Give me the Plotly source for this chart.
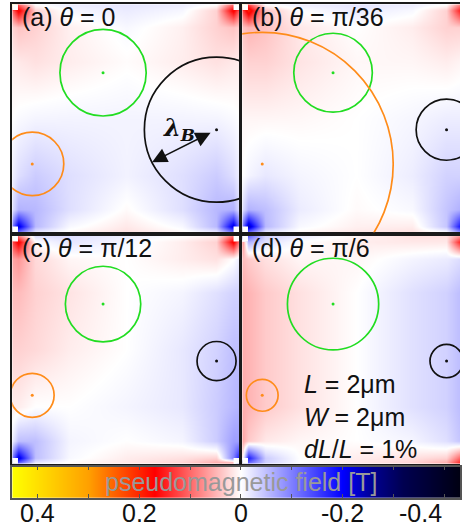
import math
import plotly.graph_objects as go

W, H = 462, 527

# ---------------- data ----------------
grid_pos = [0, 0.025, 0.1, 0.25, 0.5, 0.75, 0.9, 0.975, 1]  # sample positions (fraction of sample size)

# pseudomagnetic field [T]; rows = y from bottom to top, cols = x from left to right
field_a = [
    [-0.45, -0.10, -0.015, 0.005, 0.02, 0.005, -0.015, -0.10, -0.45],
    [-0.10, -0.22, -0.055, -0.005, 0.015, -0.005, -0.055, -0.22, -0.10],
    [-0.025, -0.06, -0.055, -0.025, 0.003, -0.025, -0.055, -0.06, -0.025],
    [-0.012, -0.025, -0.04, -0.025, -0.01, -0.025, -0.04, -0.025, -0.012],
    [0.00, -0.004, -0.008, -0.009, -0.009, -0.009, -0.008, -0.004, 0.00],
    [0.012, 0.015, 0.02, 0.012, 0.002, 0.012, 0.02, 0.015, 0.012],
    [0.03, 0.04, 0.03, 0.01, -0.005, 0.01, 0.03, 0.04, 0.03],
    [0.10, 0.18, 0.03, -0.006, -0.015, -0.006, 0.03, 0.18, 0.10],
    [0.45, 0.10, 0.00, -0.015, -0.02, -0.015, 0.00, 0.10, 0.45],
]
field_b = [
    [-0.45, -0.10, -0.015, 0.005, 0.015, 0.02, 0.00, -0.10, -0.45],
    [-0.10, -0.24, -0.055, -0.005, 0.01, 0.012, -0.045, -0.22, -0.10],
    [-0.025, -0.06, -0.05, -0.015, 0.003, -0.005, -0.045, -0.065, -0.035],
    [0.00, -0.008, -0.018, -0.008, 0.00, -0.014, -0.035, -0.035, -0.025],
    [0.006, 0.006, 0.006, 0.005, 0.00, -0.007, -0.014, -0.014, -0.014],
    [0.025, 0.03, 0.03, 0.018, 0.005, 0.006, 0.012, 0.006, 0.00],
    [0.04, 0.05, 0.04, 0.015, 0.00, 0.012, 0.03, 0.03, 0.015],
    [0.12, 0.20, 0.04, 0.00, -0.015, -0.005, 0.03, 0.18, 0.10],
    [0.45, 0.12, 0.00, -0.015, -0.02, -0.015, 0.00, 0.10, 0.45],
]
field_c = [
    [-0.45, -0.10, -0.01, 0.005, 0.015, 0.03, 0.06, 0.10, -0.35],
    [-0.10, -0.22, -0.05, -0.005, 0.012, 0.02, 0.03, -0.10, -0.18],
    [-0.015, -0.05, -0.05, -0.008, 0.00, -0.008, -0.04, -0.075, -0.075],
    [0.012, 0.012, 0.00, 0.00, -0.008, -0.018, -0.04, -0.055, -0.06],
    [0.03, 0.03, 0.025, 0.012, 0.00, -0.018, -0.035, -0.05, -0.05],
    [0.045, 0.045, 0.03, 0.018, 0.00, -0.008, -0.024, -0.035, -0.035],
    [0.06, 0.07, 0.025, 0.006, 0.00, 0.012, 0.02, 0.00, -0.015],
    [0.12, 0.18, 0.00, -0.02, -0.006, 0.012, 0.03, 0.18, 0.08],
    [0.45, 0.08, -0.025, -0.025, -0.012, 0.00, 0.012, 0.10, 0.45],
]
field_d = [
    [-0.45, -0.10, -0.035, 0.00, 0.015, 0.03, 0.06, 0.18, 0.45],
    [0.02, -0.18, -0.04, 0.00, 0.012, 0.02, 0.03, 0.12, 0.08],
    [0.06, 0.035, 0.015, 0.006, 0.00, -0.008, -0.025, -0.05, -0.06],
    [0.055, 0.05, 0.035, 0.02, 0.00, -0.024, -0.036, -0.055, -0.06],
    [0.055, 0.05, 0.035, 0.02, 0.00, -0.024, -0.036, -0.055, -0.06],
    [0.055, 0.05, 0.035, 0.02, 0.00, -0.024, -0.036, -0.055, -0.06],
    [0.045, 0.035, 0.02, 0.006, 0.006, -0.008, -0.015, -0.03, -0.035],
    [0.08, -0.06, -0.025, 0.00, 0.012, 0.015, 0.015, 0.18, 0.06],
    [-0.35, -0.12, -0.035, -0.015, 0.006, 0.02, 0.02, 0.08, 0.45],
]
fields = [field_a, field_b, field_c, field_d]

panel_labels = ["(a) <i>θ</i> = 0", "(b) <i>θ</i> = π/36",
                "(c) <i>θ</i> = π/12", "(d) <i>θ</i> = π/6"]

green_center = (0.40, 0.70)
orange_center = (0.088, 0.30)
black_center = (0.90, 0.45)
green_r = [0.190, 0.173, 0.166, 0.201]
orange_r = [0.139, 0.577, 0.0965, 0.070]
black_r = [0.318, 0.134, 0.086, 0.073]

lambda_arrow_angle = 206.6  # degrees, direction of the λ_B arrow in panel (a)
params_text = "<i>L</i> = 2μm<br><i>W</i> = 2μm<br><i>dL</i>/<i>L</i> = 1%"

field_min, field_max = -0.45, 0.45
cbar_ticks = [0.4, 0.3, 0.2, 0.1, 0, -0.1, -0.2, -0.3, -0.4]
cbar_label_vals = [0.4, 0.2, 0, -0.2, -0.4]
cbar_label_text = ["0.4", "0.2", "0", "-0.2", "-0.4"]
cbar_title = "pseudomagnetic field [T]"

# ---------------- style ----------------
def nz(v):
    return (v - field_min) / (field_max - field_min)

colorscale = [
    [nz(-0.45), "#000008"],
    [nz(-0.32), "#000050"],
    [nz(-0.26), "#000090"],
    [nz(-0.20), "#0000ff"],
    [nz(0.0), "#ffffff"],
    [nz(0.17), "#ff0000"],
    [nz(0.30), "#ffa000"],
    [nz(0.45), "#ffff00"],
]

FONT = "Liberation Sans, Arial, sans-serif"
PANEL = 228.0
col_x0 = [12.3, 243.3]
row_y0 = [4.3, 235.7]

fig = go.Figure()
layout = dict(width=W, height=H, margin=dict(l=0, r=0, t=0, b=0),
              paper_bgcolor="white", plot_bgcolor="white", showlegend=False,
              font=dict(family=FONT, color="#111111"))
shapes = []
annotations = []

pad_half = 0.012
corner_pts = [(0, 0), (0, 1), (1, 0), (1, 1)]

for i in range(4):
    r, c = divmod(i, 2)
    x0 = col_x0[c]
    y0 = row_y0[r]
    xd1 = min((x0 + PANEL) / W, 1.0)
    xr1 = (xd1 * W - x0) / PANEL
    xa = "x" if i == 0 else f"x{i+1}"
    ya = "y" if i == 0 else f"y{i+1}"
    xk = "xaxis" if i == 0 else f"xaxis{i+1}"
    yk = "yaxis" if i == 0 else f"yaxis{i+1}"
    full_right = xd1 < 1.0
    layout[xk] = dict(domain=[x0 / W, xd1], range=[0, xr1], anchor=ya,
                      showgrid=False, zeroline=False, showticklabels=False, ticks="",
                      showline=True, mirror=True, linecolor="#1a1a1a", linewidth=1.5)
    layout[yk] = dict(domain=[1 - (y0 + PANEL) / H, 1 - y0 / H], range=[0, 1], anchor=xa,
                      showgrid=False, zeroline=False, showticklabels=False, ticks="",
                      showline=True, mirror=full_right, linecolor="#1a1a1a", linewidth=1.5)
    fig.add_trace(go.Heatmap(x=grid_pos, y=grid_pos, z=fields[i], zmin=field_min, zmax=field_max,
                             colorscale=colorscale, zsmooth="best", showscale=False,
                             hoverinfo="skip", xaxis=xa, yaxis=ya))
    for (cx, cy), rad, col in [(green_center, green_r[i], "#22dd22"),
                               (orange_center, orange_r[i], "#ff8c1a"),
                               (black_center, black_r[i], "#111111")]:
        shapes.append(dict(type="circle", xref=xa, yref=ya, x0=cx - rad, x1=cx + rad,
                           y0=cy - rad, y1=cy + rad, line=dict(color=col, width=1.7)))
    fig.add_trace(go.Scatter(x=[green_center[0], orange_center[0], black_center[0]],
                             y=[green_center[1], orange_center[1], black_center[1]],
                             mode="markers", marker=dict(size=3, color=["#22dd22", "#ff8c1a", "#111111"]),
                             hoverinfo="skip", xaxis=xa, yaxis=ya))
    fig.add_trace(go.Scatter(x=[px + (pad_half if px == 0 else -pad_half) for px, py in corner_pts],
                             y=[py + (pad_half if py == 0 else -pad_half) for px, py in corner_pts],
                             mode="markers", marker=dict(symbol="square", size=6, color="white",
                                                         line=dict(width=0)),
                             hoverinfo="skip", xaxis=xa, yaxis=ya))
    annotations.append(dict(text=panel_labels[i], xref=xa, yref=ya, x=0.035, y=0.945,
                            xanchor="left", yanchor="middle", showarrow=False,
                            font=dict(size=25, family=FONT, color="#111111")))

# λ_B arrow in panel (a)
ang = math.radians(lambda_arrow_angle)
rb = black_r[0]
bx, by = black_center
annotations.append(dict(xref="x", yref="y", axref="x", ayref="y",
                        x=bx + rb * math.cos(ang), y=by + rb * math.sin(ang),
                        ax=bx + 0.07 * rb * math.cos(ang), ay=by + 0.07 * rb * math.sin(ang),
                        text="", showarrow=True, arrowside="end+start", arrowhead=2, startarrowhead=2,
                        arrowsize=2.0, startarrowsize=2.0, arrowwidth=1.5, arrowcolor="#111111"))
annotations.append(dict(xref="x", yref="y", x=0.735, y=0.455, xanchor="center", yanchor="middle",
                        text="<b><i>λ</i><sub><i>B</i></sub></b>", showarrow=False,
                        font=dict(size=24, family="DejaVu Serif, serif", color="#111111")))
annotations.append(dict(xref="x4", yref="y4", x=0.262, y=0.205, xanchor="left", yanchor="middle",
                        align="left", text=params_text, showarrow=False,
                        font=dict(size=25, family=FONT, color="#111111")))

# colour bar as its own axis
cb_x0, cb_y0, cb_y1 = 12.3, 466.7, 498.0
px_per_unit = 510.0
vis_left = 0.4 + (38.0 - cb_x0) / px_per_unit
vis_right = 0.4 - (W - 38.0) / px_per_unit
fig.add_trace(go.Heatmap(x=[field_max, field_min], y=[0, 1],
                         z=[[field_max, field_min], [field_max, field_min]],
                         zmin=field_min, zmax=field_max, colorscale=colorscale, zsmooth="best",
                         showscale=False, hoverinfo="skip", xaxis="x5", yaxis="y5"))
layout["xaxis5"] = dict(domain=[cb_x0 / W, 1.0], range=[vis_left, vis_right], anchor="y5",
                        showgrid=False, zeroline=False, tickvals=cbar_ticks, showticklabels=False,
                        ticks="inside", ticklen=4, tickwidth=1, tickcolor="#555555",
                        showline=True, mirror="ticks", linecolor="#555555", linewidth=1.5)
layout["yaxis5"] = dict(domain=[1 - cb_y1 / H, 1 - cb_y0 / H], range=[0, 1], anchor="x5",
                        showgrid=False, zeroline=False, showticklabels=False, ticks="",
                        showline=True, mirror=True, linecolor="#555555", linewidth=1.5)
for v, t in zip(cbar_label_vals, cbar_label_text):
    annotations.append(dict(xref="x5", yref="paper", x=v, y=1 - 512.5 / H,
                            xanchor="right" if v == cbar_label_vals[-1] else "center",
                            yanchor="middle", text=t, showarrow=False,
                            font=dict(size=25, family=FONT, color="#111111")))
annotations.append(dict(xref="x5", yref="y5", x=0, y=0.5, xanchor="center", yanchor="middle",
                        text=cbar_title, showarrow=False,
                        font=dict(size=25, family=FONT, color="#999999")))

layout["shapes"] = shapes
layout["annotations"] = annotations
fig.update_layout(**layout)
fig.write_html("out.html", config={"displayModeBar": False},
               post_script="document.body.style.margin='0';document.body.style.overflow='hidden';")
